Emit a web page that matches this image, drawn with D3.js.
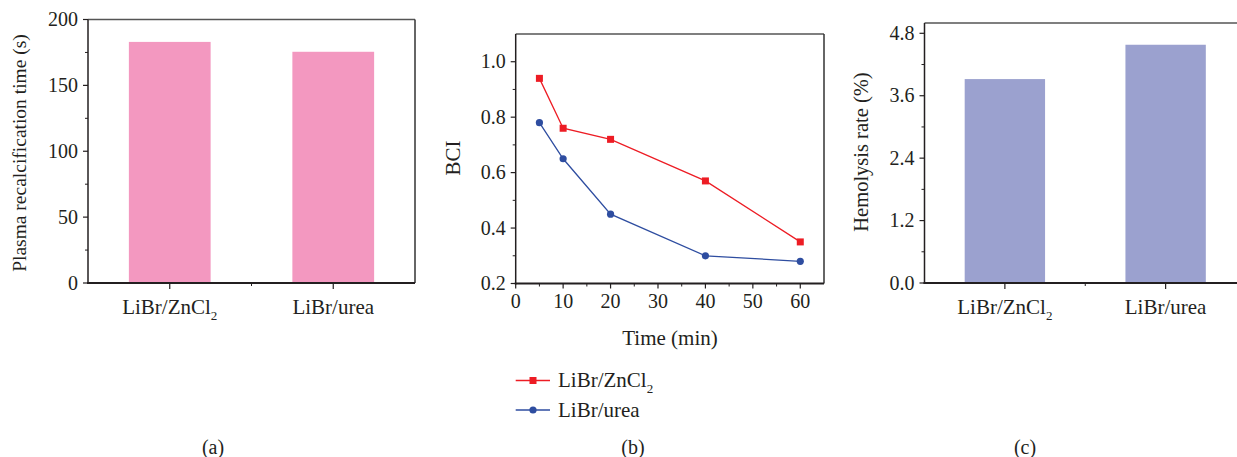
<!DOCTYPE html>
<html>
<head>
<meta charset="utf-8">
<script src="https://cdn.jsdelivr.net/npm/d3@7"></script>
<style>
  body { margin: 0; background: #fff; }
  text { font-family: 'Liberation Serif', 'DejaVu Serif', serif; fill: #231f20; }
</style>
</head>
<body>
<div id="fig"></div>
<script>
// data
let groups = ['LiBr/ZnCl2', 'LiBr/urea']
let recalcTime = [183, 175.5]      // panel (a), seconds
let hemolysis = [3.92, 4.58]       // panel (c), %
let timeMin = [5, 10, 20, 40, 60]  // panel (b)
let bciZnCl2 = [0.94, 0.76, 0.72, 0.57, 0.35]
let bciUrea = [0.78, 0.65, 0.45, 0.30, 0.28]
let aTicks = [0, 50, 100, 150, 200]
let bTicksX = [0, 10, 20, 30, 40, 50, 60]
let bTicksY = [0.2, 0.4, 0.6, 0.8, 1.0]
let cTicks = [0, 1.2, 2.4, 3.6, 4.8]

let W = 1237, H = 457
let svg = d3.select('#fig').append('svg').attr('width', W).attr('height', H)

let fs = 20     // tick labels
let fl = 21     // category / axis titles
let axisCol = '#231f20'

// writes a label, turning the "2" of ZnCl2 into a subscript
function catLabel(sel, name) {
    if (name.endsWith('Cl2')) {
        sel.text(name.slice(0, -1))
        sel.append('tspan').attr('dy', 6).style('font-size', '13px').text('2')
    } else {
        sel.text(name)
    }
}

// frame: left+bottom axis dark, top+right lighter
function frame(g, x0, x1, y0, y1) {
    g.append('line').attr('x1', x0).attr('x2', x1).attr('y1', y0).attr('y2', y0)
        .attr('stroke', '#555').attr('stroke-width', 1.5)
    g.append('line').attr('x1', x1).attr('x2', x1).attr('y1', y0).attr('y2', y1)
        .attr('stroke', '#333').attr('stroke-width', 1.5)
    g.append('line').attr('x1', x0).attr('x2', x0).attr('y1', y0).attr('y2', y1 + 1)
        .attr('stroke', axisCol).attr('stroke-width', 1.5)
    g.append('line').attr('x1', x0 - 1).attr('x2', x1).attr('y1', y1).attr('y2', y1)
        .attr('stroke', axisCol).attr('stroke-width', 2)
}

function yAxisTicks(g, y, x0, ticks, minors, fmt) {
    ticks.forEach(t => {
        g.append('line').attr('x1', x0 - 5).attr('x2', x0).attr('y1', y(t)).attr('y2', y(t))
            .attr('stroke', axisCol).attr('stroke-width', 1.2)
        g.append('text').attr('x', x0 - 10).attr('y', y(t) + 6.5)
            .attr('text-anchor', 'end').style('font-size', fs + 'px').text(fmt(t))
    })
    minors.forEach(t => {
        g.append('line').attr('x1', x0 - 3).attr('x2', x0).attr('y1', y(t)).attr('y2', y(t))
            .attr('stroke', axisCol).attr('stroke-width', 1)
    })
}

function yLabel(g, x, y, txt, size) {
    g.append('text').attr('transform', `translate(${x},${y}) rotate(-90)`)
        .attr('text-anchor', 'middle').style('font-size', size + 'px').text(txt)
}

function barPanel(cfg) {
    let g = svg.append('g')
    let x = d3.scaleBand().domain(groups).range([cfg.x0, cfg.x1]).paddingInner(0.5).paddingOuter(0.25)
    let y = d3.scaleLinear().domain(cfg.domain).range([cfg.yB, cfg.yT])
    g.selectAll('rect.bar').data(cfg.values).enter().append('rect')
        .attr('class', 'bar')
        .attr('x', (d, i) => x(groups[i]))
        .attr('width', x.bandwidth())
        .attr('y', d => y(d))
        .attr('height', d => y(0) - y(d))
        .attr('fill', cfg.color)
    frame(g, cfg.x0, cfg.x1, cfg.yT, cfg.yB)
    yAxisTicks(g, y, cfg.x0, cfg.ticks, cfg.minors, cfg.fmt)
    let step = x.step()
    groups.forEach((name, i) => {
        let cx = x(name) + x.bandwidth() / 2
        g.append('line').attr('x1', cx).attr('x2', cx).attr('y1', cfg.yB).attr('y2', cfg.yB + 6)
            .attr('stroke', axisCol).attr('stroke-width', 1.2)
        let t = g.append('text').attr('x', cx).attr('y', cfg.yB + 31)
            .attr('text-anchor', 'middle').style('font-size', fl + 'px')
        catLabel(t, name)
        if (i < groups.length - 1) {
            g.append('line').attr('x1', cx + step / 2).attr('x2', cx + step / 2)
                .attr('y1', cfg.yB).attr('y2', cfg.yB + 3)
                .attr('stroke', axisCol).attr('stroke-width', 1)
        }
    })
    yLabel(g, cfg.labelX, cfg.labelY, cfg.label, cfg.labelSize)
    return g
}

// (a)
barPanel({
    x0: 88, x1: 415, yB: 283, yT: 19.5, domain: [0, 200],
    values: recalcTime, color: '#f398c0',
    ticks: aTicks, minors: [25, 75, 125, 175], fmt: d3.format('d'),
    label: 'Plasma recalcification time (s)', labelX: 26, labelY: 153, labelSize: 19.5
})

// (c)  axis runs to 5.0, 4.8 is the last labelled tick
barPanel({
    x0: 924.5, x1: 1246, yB: 283, yT: 22.9, domain: [0, 5.0],
    values: hemolysis, color: '#9ba1cf',
    ticks: cTicks, minors: [0.6, 1.8, 3.0, 4.2], fmt: d3.format('.1f'),
    label: 'Hemolysis rate (%)', labelX: 868, labelY: 152, labelSize: 20.5
})

// (b) line chart
let gb = svg.append('g')
let bx = d3.scaleLinear().domain([0, 65]).range([515.7, 824])
let by = d3.scaleLinear().domain([0.2, 1.1]).range([283.5, 34])
frame(gb, bx(0), bx(65), by(1.1), by(0.2))
yAxisTicks(gb, by, bx(0), bTicksY, [0.3, 0.5, 0.7, 0.9], d3.format('.1f'))
bTicksX.forEach(t => {
    gb.append('line').attr('x1', bx(t)).attr('x2', bx(t)).attr('y1', by(0.2)).attr('y2', by(0.2) + 5)
        .attr('stroke', axisCol).attr('stroke-width', 1.2)
    gb.append('text').attr('x', bx(t)).attr('y', by(0.2) + 24)
        .attr('text-anchor', 'middle').style('font-size', fs + 'px').text(t)
})
;[5, 15, 25, 35, 45, 55].forEach(t => {
    gb.append('line').attr('x1', bx(t)).attr('x2', bx(t)).attr('y1', by(0.2)).attr('y2', by(0.2) + 3)
        .attr('stroke', axisCol).attr('stroke-width', 1)
})
yLabel(gb, 460, 158, 'BCI', fl)
gb.append('text').attr('x', 670).attr('y', 345).attr('text-anchor', 'middle')
    .style('font-size', fl + 'px').text('Time (min)')

let series = [
    { name: 'LiBr/ZnCl2', vals: bciZnCl2, color: '#ed1c24', shape: 'square' },
    { name: 'LiBr/urea', vals: bciUrea, color: '#2e4da0', shape: 'circle' }
]
let line = d3.line().x(d => bx(d[0])).y(d => by(d[1]))
function marker(g, s, cx, cy) {
    if (s.shape === 'square') {
        g.append('rect').attr('x', cx - 3.5).attr('y', cy - 3.5).attr('width', 7).attr('height', 7)
            .attr('fill', s.color)
    } else {
        g.append('circle').attr('cx', cx).attr('cy', cy).attr('r', 3.6).attr('fill', s.color)
    }
}
series.forEach(s => {
    let pts = timeMin.map((t, i) => [t, s.vals[i]])
    gb.append('path').attr('d', line(pts)).attr('fill', 'none')
        .attr('stroke', s.color).attr('stroke-width', 1.3)
    pts.forEach(p => marker(gb, s, bx(p[0]), by(p[1])))
})

// legend
series.forEach((s, i) => {
    let ly = 380.5 + i * 29.5
    gb.append('line').attr('x1', 515.7).attr('x2', 550).attr('y1', ly).attr('y2', ly)
        .attr('stroke', s.color).attr('stroke-width', 1.3)
    marker(gb, s, 533, ly)
    let t = gb.append('text').attr('x', 558).attr('y', ly + 6.5).style('font-size', fl + 'px')
    catLabel(t, s.name)
})

// panel letters
;[['(a)', 213], ['(b)', 633], ['(c)', 1025]].forEach(p => {
    svg.append('text').attr('x', p[1]).attr('y', 454).attr('text-anchor', 'middle')
        .style('font-size', '20px').text(p[0])
})
</script>
</body>
</html>
